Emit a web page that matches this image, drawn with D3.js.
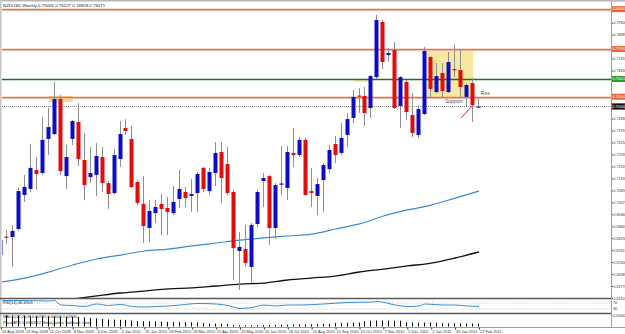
<!DOCTYPE html>
<html>
<head>
<meta charset="utf-8">
<script src="https://cdn.jsdelivr.net/npm/d3@7"></script>
<style>
  body { margin: 0; background: #fff; }
  svg text { font-family: "Liberation Sans", Arial, sans-serif; }
</style>
</head>
<body>
<div id="chart"></div>
<script>
// weekly NZDUSD candles, 16 Aug 2009 .. 27 Feb 2011 (81 weeks)
const open = [
  0.6736, 0.6831, 0.6829, 0.6870, 0.7045, 0.7076, 0.7173, 0.7158, 0.7333, 0.7358,
  0.7538, 0.7142, 0.7333, 0.7420, 0.7225, 0.7137, 0.7148, 0.7240, 0.7106, 0.7055,
  0.7230, 0.7389, 0.7333, 0.7112, 0.6999, 0.6875, 0.6952, 0.6999, 0.6978, 0.6952,
  0.7024, 0.7060, 0.7040, 0.7055, 0.7184, 0.7065, 0.7158, 0.7266, 0.7204, 0.7060,
  0.6757, 0.6767, 0.6675, 0.6896, 0.7117, 0.7142, 0.6875, 0.7099, 0.7081, 0.7261,
  0.7250, 0.7328, 0.7065, 0.7040, 0.7122, 0.7178, 0.7307, 0.7261, 0.7353, 0.7441,
  0.7556, 0.7554, 0.7492, 0.7651, 0.7934, 0.7764, 0.7790, 0.7502, 0.7626, 0.7456,
  0.7353, 0.7461, 0.7754, 0.7574, 0.7672, 0.7574, 0.7692, 0.7687, 0.7549, 0.7620,
  0.7495
];
const high = [
  0.6855, 0.6865, 0.6891, 0.7081, 0.7148, 0.7307, 0.7240, 0.7446, 0.7492, 0.7626,
  0.7559, 0.7302, 0.7430, 0.7518, 0.7363, 0.7292, 0.7312, 0.7292, 0.7117, 0.7281,
  0.7425, 0.7435, 0.7400, 0.7122, 0.7142, 0.7019, 0.7019, 0.7050, 0.7035, 0.7091,
  0.7173, 0.7086, 0.7127, 0.7163, 0.7189, 0.7184, 0.7317, 0.7317, 0.7292, 0.7071,
  0.6855, 0.6891, 0.6901, 0.7071, 0.7158, 0.7148, 0.7106, 0.7297, 0.7297, 0.7389,
  0.7343, 0.7338, 0.7184, 0.7132, 0.7209, 0.7302, 0.7348, 0.7415, 0.7466, 0.7585,
  0.7595, 0.7600, 0.7662, 0.7970, 0.7944, 0.7800, 0.7831, 0.7656, 0.7636, 0.7569,
  0.7507, 0.7806, 0.7759, 0.7723, 0.7723, 0.7780, 0.7821, 0.7795, 0.7620, 0.7646,
  0.7543
];
const low = [
  0.6644, 0.6793, 0.6675, 0.6860, 0.7009, 0.7060, 0.7071, 0.7148, 0.7250, 0.7353,
  0.7148, 0.7076, 0.7302, 0.7194, 0.7019, 0.7106, 0.7040, 0.7060, 0.6973, 0.7045,
  0.7189, 0.7353, 0.7081, 0.6993, 0.6798, 0.6803, 0.6901, 0.6839, 0.6839, 0.6942,
  0.6978, 0.6983, 0.6957, 0.6957, 0.7060, 0.7045, 0.7091, 0.7004, 0.7045, 0.6608,
  0.6557, 0.6675, 0.6592, 0.6880, 0.6983, 0.6788, 0.6819, 0.7045, 0.7019, 0.7189,
  0.7240, 0.7040, 0.6983, 0.6942, 0.6957, 0.7158, 0.7209, 0.7250, 0.7292, 0.7415,
  0.7466, 0.7400, 0.7441, 0.7641, 0.7692, 0.7728, 0.7487, 0.7389, 0.7430, 0.7343,
  0.7338, 0.7456, 0.7549, 0.7569, 0.7543, 0.7569, 0.7651, 0.7549, 0.7497, 0.7420,
  0.7492
];
const close = [
  0.6813, 0.6826, 0.6860, 0.7065, 0.7086, 0.7184, 0.7153, 0.7328, 0.7394, 0.7538,
  0.7168, 0.7240, 0.7425, 0.7230, 0.7096, 0.7158, 0.7245, 0.7106, 0.7050, 0.7250,
  0.7358, 0.7374, 0.7086, 0.7004, 0.6885, 0.6963, 0.6983, 0.6973, 0.6957, 0.7009,
  0.7076, 0.7029, 0.7050, 0.7153, 0.7076, 0.7163, 0.7261, 0.7132, 0.7055, 0.6772,
  0.6778, 0.6695, 0.6891, 0.7060, 0.7132, 0.6875, 0.7096, 0.7104, 0.7266, 0.7250,
  0.7328, 0.7045, 0.7055, 0.7101, 0.7199, 0.7276, 0.7250, 0.7338, 0.7435, 0.7549,
  0.7551, 0.7466, 0.7656, 0.7944, 0.7728, 0.7775, 0.7492, 0.7651, 0.7471, 0.7363,
  0.7487, 0.7785, 0.7590, 0.7656, 0.7579, 0.7728, 0.7690, 0.7600, 0.7610, 0.7507,
  0.7500
];

// x axis labels, every 4th week
const dateLabels = ["16 Aug 2009", "13 Sep 2009", "11 Oct 2009", "8 Nov 2009", "6 Dec 2009",
  "3 Jan 2010", "31 Jan 2010", "28 Feb 2010", "28 Mar 2010", "25 Apr 2010", "23 May 2010",
  "20 Jun 2010", "18 Jul 2010", "15 Aug 2010", "12 Sep 2010", "10 Oct 2010", "7 Nov 2010",
  "5 Dec 2010", "2 Jan 2011", "30 Jan 2011", "27 Feb 2011"];
const labelIdx = d3.range(0, 81, 4);

// price axis ticks
const priceTicks = [0.65155, 0.65770, 0.66385, 0.67000, 0.67615, 0.68230, 0.68845, 0.69460,
  0.70075, 0.70690, 0.71305, 0.71920, 0.72535, 0.73150, 0.73765, 0.74380, 0.74995, 0.75610,
  0.76225, 0.76840, 0.77455, 0.78070, 0.78685, 0.79300];

// moving averages (read every 4 weeks)
const maIdx = d3.range(0, 81, 4);
const maBlue = [0.6598, 0.6618, 0.6649, 0.6685, 0.6716, 0.6736, 0.6757, 0.6767, 0.6783, 0.6798,
  0.6813, 0.6824, 0.6834, 0.6844, 0.6870, 0.6896, 0.6937, 0.6968, 0.6993, 0.7029, 0.7065];
const maBlackIdx = d3.range(12, 81, 4);
const maBlack = [0.6510, 0.6526, 0.6541, 0.6551, 0.6562, 0.6567, 0.6577, 0.6587, 0.6592,
  0.6608, 0.6618, 0.6628, 0.6649, 0.6664, 0.6680, 0.6695, 0.6721, 0.6752];

// horizontal levels
const levels = [0.8000, 0.7795, 0.7641, 0.7550];
const levelKind = ["orange", "orange", "green", "orange"];

// RSI(14)
const rsiIdx = [0, 4, 8, 9, 10, 12, 14, 16, 18, 20, 22, 24, 26, 28, 30, 33, 36, 38, 40, 42,
  44, 46, 48, 50, 54, 58, 62, 63, 66, 68, 70, 71, 74, 76, 78, 80];
const rsiVal = [86.7, 86.7, 83.3, 86.7, 56.7, 53.3, 46.7, 63.3, 53.3, 60, 46.7, 43.3, 46.7, 50,
  56.7, 66.7, 63.3, 53.3, 33.3, 40, 56.7, 50, 56.7, 56.7, 63.3, 73.3, 76.7, 80, 56.7, 46.7,
  50, 63.3, 56.7, 56.7, 50, 46.7];

// lower histogram indicator
const hist = [
  0.0264, 0.0265, 0.0263, 0.0262, 0.0260, 0.0255, 0.0250, 0.0248, 0.0245, 0.0242,
  0.0240, 0.0238, 0.0235, 0.0230, 0.0220, 0.0205, 0.0198, 0.0185, 0.0170, 0.0165,
  0.0160, 0.0158, 0.0145, 0.0132, 0.0128, 0.0126, 0.0124, 0.0115, 0.0108, 0.0106,
  0.0104, 0.0103, 0.0102, 0.0100, 0.0085, 0.0072, 0.0068, 0.0065, 0.0060, 0.0035,
  0.0030, 0.0028, 0.0030, 0.0032, 0.0035, 0.0038, 0.0040, 0.0042, 0.0045, 0.0048,
  0.0050, 0.0052, 0.0055, 0.0058, 0.0062, 0.0065, 0.0085, 0.0088, 0.0090, 0.0092,
  0.0095, 0.0130, 0.0140, 0.0145, 0.0145, 0.0142, 0.0140, 0.0138, 0.0100, 0.0098,
  0.0096, 0.0095, 0.0096, 0.0094, 0.0078, 0.0076, 0.0075, 0.0074, 0.0073, 0.0072,
  0.0070
];

// drawn zones / notes (candle index, price)
const resZone = { from: 71.3, to: 79, top: 0.7795, bottom: 0.7549 };
const marks = [
  { from: 8, to: 12, top: 0.7554, bottom: 0.7523, fill: "#f3d16e" },
  { from: 59, to: 62, top: 0.7641, bottom: 0.7626, fill: "#ecec9a" }
];
const arrow = { i0: 77, p0: 0.7441, i1: 79, p1: 0.7507 };

const W = 625, H = 334;
const svg = d3.select("#chart").append("svg")
    .attr("width", W).attr("height", H).style("display", "block");

const x = d3.scaleLinear().domain([0, 80]).range([1, 479]);
const y = d3.scaleLinear().domain([0.65154, 0.80317]).range([298, 3]);
const yR = d3.scaleLinear().domain([0, 100]).range([313.5, 298.5]);
const yH = d3.scaleLinear().domain([0, 0.0264]).range([326.5, 315.5]);
const fmt5 = d3.format(".5f");

svg.append("defs").append("clipPath").attr("id", "main")
  .append("rect").attr("x", 2).attr("y", 3).attr("width", 609).attr("height", 295);
svg.select("defs").append("clipPath").attr("id", "low")
  .append("rect").attr("x", 2).attr("y", 299).attr("width", 609).attr("height", 28);

// frame
svg.append("rect").attr("x", 0).attr("y", 0).attr("width", W).attr("height", 1.5).attr("fill", "#b8b8b8");
svg.append("rect").attr("x", 0).attr("y", 0).attr("width", 1.5).attr("height", 328).attr("fill", "#c4c4c4");

const main = svg.append("g").attr("clip-path", "url(#main)");

// resistance box
main.append("rect")
    .attr("x", x(resZone.from)).attr("y", y(resZone.top))
    .attr("width", x(resZone.to) - x(resZone.from))
    .attr("height", y(resZone.bottom) - y(resZone.top))
    .attr("fill", "#f4e48e").attr("opacity", 0.85);
main.selectAll(".mark").data(marks).enter().append("rect")
    .attr("x", d => x(d.from)).attr("y", d => y(d.top))
    .attr("width", d => x(d.to) - x(d.from))
    .attr("height", d => y(d.bottom) - y(d.top))
    .attr("fill", d => d.fill).attr("opacity", 0.8);

// levels
levels.forEach((p, i) => {
  const yy = Math.round(y(p)) + 0.5;
  if (levelKind[i] === "orange") {
    main.append("line").attr("x1", 2).attr("x2", 611).attr("y1", yy + 1).attr("y2", yy + 1)
        .attr("stroke", "#f7cdb6").attr("stroke-width", 1);
    main.append("line").attr("x1", 2).attr("x2", 611).attr("y1", yy).attr("y2", yy)
        .attr("stroke", "#e0764c").attr("stroke-width", 1.3);
  } else {
    main.append("line").attr("x1", 2).attr("x2", 611).attr("y1", yy).attr("y2", yy)
        .attr("stroke", "#1f6f1f").attr("stroke-width", 1.4);
  }
});

// current price line
const last = close[close.length - 1];
main.append("line").attr("x1", 2).attr("x2", 611)
    .attr("y1", Math.round(y(last)) + 0.5).attr("y2", Math.round(y(last)) + 0.5)
    .attr("stroke", "#8c8c8c").attr("stroke-dasharray", "1,1");

// moving averages
const line = d3.line().curve(d3.curveMonotoneX);
main.append("path")
    .attr("d", line(maIdx.map((k, i) => [x(k), y(maBlue[i])])))
    .attr("fill", "none").attr("stroke", "#3a8ad0").attr("stroke-width", 1.2);
main.append("path")
    .attr("d", line(maBlackIdx.map((k, i) => [x(k), y(maBlack[i])])))
    .attr("fill", "none").attr("stroke", "#111").attr("stroke-width", 1.3);

// candles
const candles = open.map((o, i) => ({ i, o, h: high[i], l: low[i], c: close[i] }));
const cg = main.append("g");
cg.selectAll(".wick").data(candles).enter().append("rect")
    .attr("x", d => Math.round(x(d.i)) - 1)
    .attr("y", d => y(d.h))
    .attr("width", 1)
    .attr("height", d => y(d.l) - y(d.h))
    .attr("fill", "#8e8e8e");
cg.selectAll(".body").data(candles).enter().append("rect")
    .attr("x", d => Math.round(x(d.i)) - 2.5)
    .attr("y", d => y(Math.max(d.o, d.c)))
    .attr("width", 4)
    .attr("height", d => Math.max(1.2, Math.abs(y(d.o) - y(d.c))))
    .attr("fill", d => d.c >= d.o ? "#0c0cc8" : "#e10c0c");

// notes
main.append("line")
    .attr("x1", x(arrow.i0)).attr("y1", y(arrow.p0))
    .attr("x2", x(arrow.i1)).attr("y2", y(arrow.p1))
    .attr("stroke", "#c0302a").attr("stroke-width", 1);
main.append("text").attr("x", x(74.3)).attr("y", y(0.7517))
    .attr("font-size", 5).attr("fill", "#555").text("Support");
main.append("text").attr("x", x(80.3)).attr("y", y(0.7559))
    .attr("font-size", 5).attr("fill", "#555").text("Res");

// title
svg.append("text").attr("x", 3).attr("y", 6.5).attr("font-size", 4.4).attr("fill", "#222")
    .text("NZDUSD,Weekly  0.75005 0.75227 0.74809 0.75071");

// price axis (tick labels next to a tag are left out, the tag shows the price)
const tagPrices = levels.concat([last]);
const shownTicks = priceTicks.filter(t => tagPrices.every(p => Math.abs(y(p) - y(t)) > 5));
const ya = svg.append("g").attr("transform", "translate(611,0)")
    .call(d3.axisRight(y).tickValues(shownTicks).tickFormat(fmt5)
      .tickSize(2).tickPadding(0.5));
ya.select(".domain").remove();
ya.selectAll("line").attr("stroke", "#333");
ya.selectAll("text").attr("font-size", 3.6).attr("fill", "#333").attr("font-family", "Liberation Sans");

svg.append("line").attr("x1", 611.5).attr("x2", 611.5).attr("y1", 1).attr("y2", 327)
    .attr("stroke", "#9c9c9c");

// level tags on the axis
const tagColor = { orange: "#e5683a", green: "#2e9a2e" };
levels.forEach((p, i) => {
  const yy = y(p);
  svg.append("rect").attr("x", 612).attr("y", yy - 3).attr("width", 13).attr("height", 6)
      .attr("fill", tagColor[levelKind[i]]);
  svg.append("text").attr("x", 612.5).attr("y", yy + 1.3).attr("font-size", 3.6).attr("fill", "#fff")
      .text(fmt5(p));
});
svg.append("rect").attr("x", 612).attr("y", y(last) - 3).attr("width", 13).attr("height", 6)
    .attr("fill", "#111").attr("stroke", "#d23a1e").attr("stroke-width", 0.8);
svg.append("text").attr("x", 612.5).attr("y", y(last) + 1.3).attr("font-size", 3.6).attr("fill", "#fff")
    .text(fmt5(last));

// panel separators
[298.5, 313.5].forEach(v => {
  svg.append("line").attr("x1", 0).attr("x2", 611).attr("y1", v).attr("y2", v)
      .attr("stroke", "#5a5a5a").attr("stroke-width", 1.3);
});
svg.append("line").attr("x1", 0).attr("x2", 625).attr("y1", 327.5).attr("y2", 327.5)
    .attr("stroke", "#9c9c9c");

// RSI panel
const low2 = svg.append("g").attr("clip-path", "url(#low)");
[70, 30].forEach(v => {
  low2.append("line").attr("x1", 2).attr("x2", 611).attr("y1", yR(v)).attr("y2", yR(v))
      .attr("stroke", "#a0a0a0").attr("stroke-width", 0.6).attr("stroke-dasharray", "1,1.5");
  svg.append("text").attr("x", 613).attr("y", yR(v) + 1.4).attr("font-size", 3.8)
      .attr("fill", "#333").text(v);
});
low2.append("path")
    .attr("d", line(rsiIdx.map((k, i) => [x(k), yR(rsiVal[i])])))
    .attr("fill", "none").attr("stroke", "#3a8ad0").attr("stroke-width", 1);
svg.append("text").attr("x", 3).attr("y", 303.5).attr("font-size", 4).attr("fill", "#222")
    .text("RSI(14) 46.6903");

// histogram panel
low2.selectAll(".hbar").data(hist).enter().append("rect")
    .attr("x", (d, i) => Math.round(x(i)) - 1)
    .attr("y", d => yH(d))
    .attr("width", 1)
    .attr("height", d => yH(0) - yH(d))
    .attr("fill", "#000");
svg.append("text").attr("x", 3).attr("y", 317.5).attr("font-size", 4).attr("fill", "#222")
    .text("MACD(12,26,9) 0.00720 0.00000 0.02640");
svg.append("text").attr("x", 3).attr("y", 323.5).attr("font-size", 4).attr("fill", "#222")
    .text("Price/ATR 0.2000512 MetaQuotes Software Corp.");
svg.append("text").attr("x", 612.5).attr("y", 317).attr("font-size", 3.6).attr("fill", "#333")
    .text(fmt5(yH.domain()[1]));

// date axis
const xa = svg.append("g").attr("transform", "translate(0,327.5)")
    .call(d3.axisBottom(x).tickValues(labelIdx)
      .tickFormat((d, i) => dateLabels[i]).tickSize(2).tickPadding(1));
xa.select(".domain").remove();
xa.selectAll("line").attr("stroke", "#333");
xa.selectAll("text").attr("text-anchor", "start").attr("dx", "0.5")
    .attr("font-size", 3.9).attr("fill", "#333").attr("font-family", "Liberation Sans");
</script>
</body>
</html>
